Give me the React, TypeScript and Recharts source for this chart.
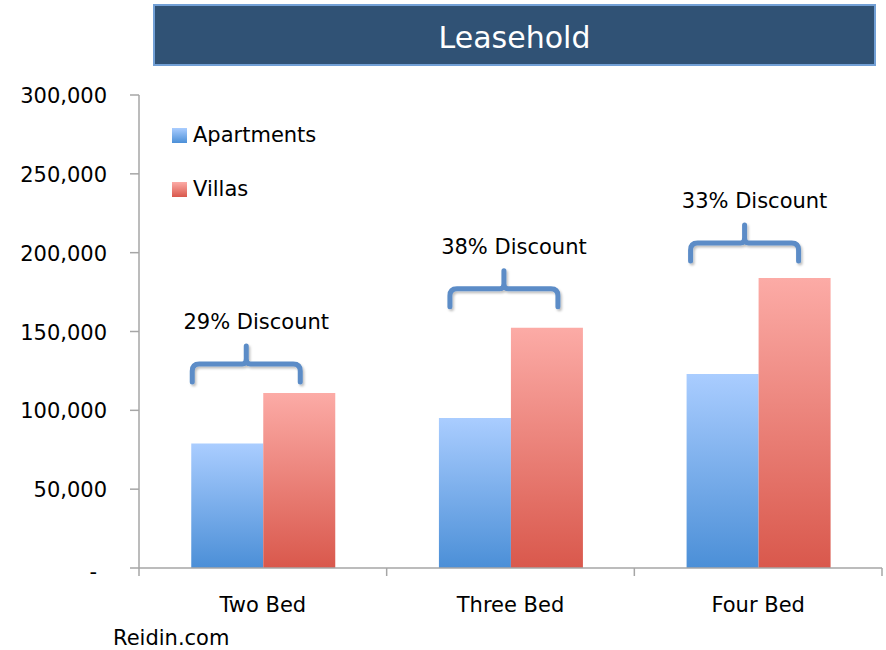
import { BarChart, Bar, XAxis, YAxis, Legend, LabelList } from "recharts";

// values (AED)
const categories = ["Two Bed", "Three Bed", "Four Bed"];
const apartments = [79000, 95200, 123100];
const villas = [111000, 152300, 184000];
const discounts = ["29% Discount", "38% Discount", "33% Discount"];
const yTicks = [0, 50000, 100000, 150000, 200000, 250000, 300000];

const data = categories.map((name, i) => ({
  name,
  apartments: apartments[i],
  villas: villas[i],
  discount: discounts[i],
}));

// hand placement of the braces (px), as in the original slide
const braceShift = [1, 11, 4];
const braceLift = [29, 39, 35];
const BRACE_W = 108;

const FONT = '"DejaVu Sans", sans-serif';
const AXIS = "#a6a6a6";
const BRACE = "#5b8cc7";
const X_TICK = 8;
const X_MARGIN = 21;

const YTick = (props: any) => {
  const { x, y, payload } = props;
  if (payload.value === 0) {
    return (
      <text x={x - 10} y={y + 11} textAnchor="end" fontFamily={FONT} fontSize={21} fill="#000">
        -
      </text>
    );
  }
  return (
    <text x={x} y={y + 8} textAnchor="end" fontFamily={FONT} fontSize={21} fill="#000">
      {payload.value.toLocaleString("en-US")}
    </text>
  );
};

// category label + tick marks on the category boundaries (Excel style)
const XTick = (props: any) => {
  const { x, y, payload, index, visibleTicksCount } = props;
  const half = payload.offset ?? 0;
  const axisY = y - X_TICK - X_MARGIN;
  const last = index === (visibleTicksCount ?? categories.length) - 1;
  return (
    <g>
      <line x1={x - half} x2={x - half} y1={axisY} y2={axisY + X_TICK} stroke={AXIS} strokeWidth={1.5} />
      {last && (
        <line x1={x + half} x2={x + half} y1={axisY} y2={axisY + X_TICK} stroke={AXIS} strokeWidth={1.5} />
      )}
      <text x={x} y={y} dy="0.71em" textAnchor="middle" fontFamily={FONT} fontSize={21} fill="#000">
        {payload.value}
      </text>
    </g>
  );
};

const Brace = (props: any) => {
  const { x, y, width, index } = props;
  const left = x - width + braceShift[index];
  const right = left + BRACE_W;
  const h = y - braceLift[index];
  const c = (left + right) / 2;
  const r = 7;
  const d = [
    `M${left},${h + 18}`,
    `L${left},${h + r}`,
    `Q${left},${h} ${left + r},${h}`,
    `L${c - 4},${h}`,
    `Q${c},${h} ${c},${h - 5}`,
    `L${c},${h - 18}`,
    `M${c},${h - 5}`,
    `Q${c},${h} ${c + 4},${h}`,
    `L${right - r},${h}`,
    `Q${right},${h} ${right},${h + r}`,
    `L${right},${h + 18}`,
  ].join(" ");
  return (
    <g>
      <path d={d} fill="none" stroke={BRACE} strokeWidth={5} strokeLinecap="round" filter="url(#soft)" />
      <text x={c + 10} y={h - 35} textAnchor="middle" fontFamily={FONT} fontSize={21} fill="#000">
        {data[index].discount}
      </text>
    </g>
  );
};

const LegendBox = () => (
  <div style={{ fontFamily: FONT, fontSize: 21, color: "#000" }}>
    {[
      { label: "Apartments", from: "#aacdff", to: "#4b8fd7" },
      { label: "Villas", from: "#fcaba6", to: "#d9584c" },
    ].map((item) => (
      <div key={item.label} style={{ display: "flex", alignItems: "center", height: 54 }}>
        <span
          style={{
            width: 15,
            height: 15,
            marginRight: 6,
            background: `linear-gradient(${item.from}, ${item.to})`,
          }}
        />
        <span>{item.label}</span>
      </div>
    ))}
  </div>
);

export default function App() {
  return (
    <div style={{ position: "absolute", left: 0, top: 0, width: 886, height: 650, background: "#fff" }}>
      <div
        style={{
          position: "absolute",
          left: 153,
          top: 4,
          width: 719,
          height: 58,
          background: "#305275",
          border: "2px solid #72a0d6",
          color: "#fff",
          fontFamily: FONT,
          fontSize: 30,
          lineHeight: "64px",
          textAlign: "center",
          overflow: "hidden",
        }}
      >
        Leasehold
      </div>
      <BarChart
        width={886}
        height={650}
        data={data}
        margin={{ top: 95, right: 4, bottom: 42, left: 0 }}
        barGap={0}
        barCategoryGap="21.1%"
      >
        <defs>
          <linearGradient id="aptFill" x1="0" y1="0" x2="0" y2="1">
            <stop offset="0%" stopColor="#aacdff" />
            <stop offset="100%" stopColor="#4b8fd7" />
          </linearGradient>
          <linearGradient id="villaFill" x1="0" y1="0" x2="0" y2="1">
            <stop offset="0%" stopColor="#fcaba6" />
            <stop offset="100%" stopColor="#d9584c" />
          </linearGradient>
          <filter id="soft" x="-10%" y="-10%" width="130%" height="140%">
            <feDropShadow dx="1.5" dy="2" stdDeviation="1.2" floodColor="#000" floodOpacity="0.25" />
          </filter>
        </defs>
        <XAxis
          dataKey="name"
          height={40}
          tickLine={false}
          axisLine={{ stroke: AXIS, strokeWidth: 1.5 }}
          tickSize={X_TICK}
          tickMargin={X_MARGIN}
          interval={0}
          tick={<XTick />}
        />
        <YAxis
          width={139}
          domain={[0, 300000]}
          ticks={yTicks}
          interval={0}
          tickSize={9}
          tickMargin={23}
          axisLine={{ stroke: AXIS, strokeWidth: 1.5 }}
          tickLine={{ stroke: AXIS, strokeWidth: 1.5 }}
          tick={<YTick />}
        />
        <Legend
          layout="vertical"
          verticalAlign="middle"
          align="center"
          content={<LegendBox />}
          wrapperStyle={{ left: 172, top: 108, width: 200 }}
        />
        <Bar dataKey="apartments" name="Apartments" fill="url(#aptFill)" isAnimationActive={false} />
        <Bar dataKey="villas" name="Villas" fill="url(#villaFill)" isAnimationActive={false}>
          <LabelList dataKey="villas" content={<Brace />} />
        </Bar>
      </BarChart>
      <div
        style={{
          position: "absolute",
          left: 113,
          top: 626,
          fontFamily: FONT,
          fontSize: 21,
          color: "#000",
        }}
      >
        Reidin.com
      </div>
    </div>
  );
}
